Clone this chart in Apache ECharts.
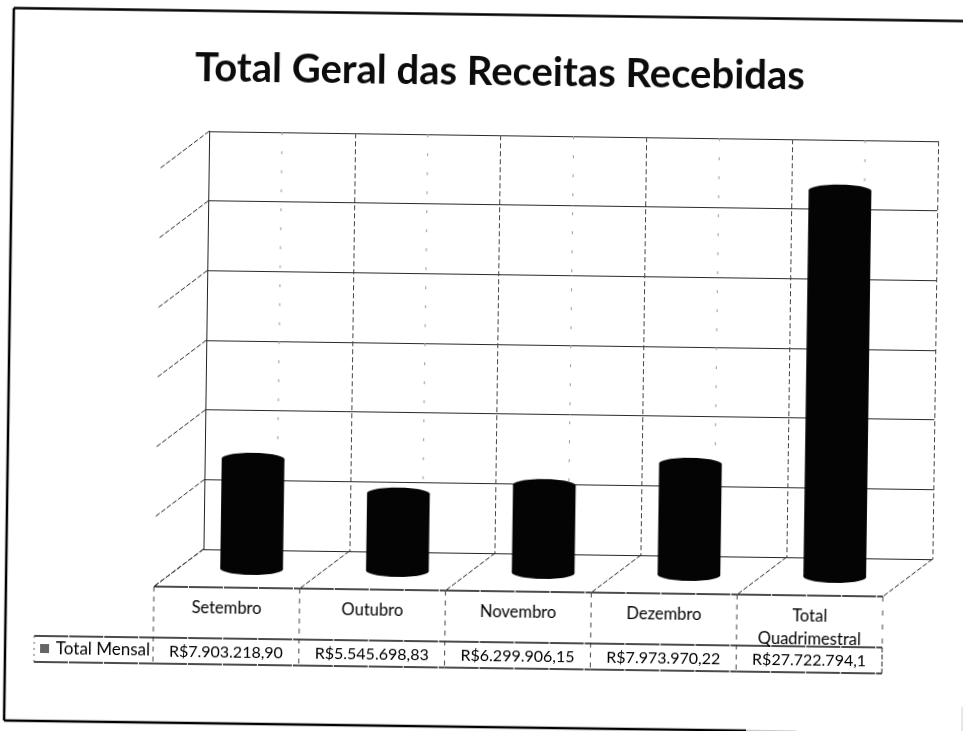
<!DOCTYPE html>
<html>
<head>
<meta charset="utf-8">
<title>Total Geral das Receitas Recebidas</title>
<style>
    html, body { margin: 0; padding: 0; width: 963px; height: 731px; overflow: hidden; background: #fff; }
    /* a folha foi digitalizada um pouco torta */
    #main { width: 1000px; height: 760px; transform-origin: 481.5px 365.5px; transform: rotate(0.785deg); }
</style>
</head>
<body>
<div id="main"></div>
<script src="https://cdn.jsdelivr.net/npm/echarts@6/dist/echarts.min.js"></script>
<script type="text/javascript">
    var categorias = ['Setembro', 'Outubro', 'Novembro', 'Dezembro', 'Total\nQuadrimestral'];
    var totalMensal = [7903218.90, 5545698.83, 6299906.15, 7973970.22, 27722794.1];
    var rotulosTabela = ['R$7.903.218,90', 'R$5.545.698,83', 'R$6.299.906,15', 'R$7.973.970,22', 'R$27.722.794,1'];
    var marcasEixo = [0, 5000000, 10000000, 15000000, 20000000, 25000000, 30000000];
    var nomeSerie = 'Total Mensal';

    var FONTE = 'Lato, "Open Sans", sans-serif';
    var COR_LINHA = '#222';
    // deslocamento do fundo ate a frente do piso
    var DX = -49, DY = 38;
    // linhas da tabela, medidas a partir da frente do piso
    var TAB_TOPO = 51, TAB_BASE = 77, TAB_ESQ = 38;

    function linha(x1, y1, x2, y2, estilo) {
        return { type: 'line', shape: { x1: x1, y1: y1, x2: x2, y2: y2 }, style: estilo };
    }
    var tracejado = { stroke: COR_LINHA, lineWidth: 1, lineDash: [5, 2] };
    var continuo = { stroke: '#111', lineWidth: 1.4, lineDash: [34, 1] };
    var pontilhado = { stroke: '#999', lineWidth: 1, lineDash: [3, 16] };

    // cilindros
    function desenhaCilindro(params, api) {
        var topo = api.coord([api.value(0), api.value(1)]);
        var base = api.coord([api.value(0), 0]);
        var larg = api.size([1, 0])[0] * 0.43;
        var cx = topo[0] + DX / 2;
        var ty = topo[1] + DY / 2;
        var by = base[1] + DY / 2;
        var cor = { fill: '#040404' };
        return {
            type: 'group',
            children: [
                { type: 'rect', shape: { x: cx - larg / 2, y: ty, width: larg, height: by - ty }, style: cor },
                { type: 'ellipse', shape: { cx: cx, cy: ty, rx: larg / 2, ry: 6 }, style: cor },
                { type: 'ellipse', shape: { cx: cx, cy: by, rx: larg / 2, ry: 6 }, style: cor }
            ]
        };
    }

    // diagonais da parede esquerda
    function desenhaParede(params, api) {
        var p = api.coord([0, api.value(0)]);
        var x = p[0] - api.size([1, 0])[0] / 2;
        return linha(x, p[1], x + DX, p[1] + DY, tracejado);
    }

    // piso, linhas fracas do fundo e tabela de dados
    function desenhaCelula(params, api) {
        var i = api.value(0);
        var base = api.coord([i, 0]);
        var topo = api.coord([i, marcasEixo[marcasEixo.length - 1]]);
        var w = api.size([1, 0])[0];
        var xf = base[0] - w / 2;
        var yf = base[1];
        var xe = xf + DX;
        var yp = yf + DY;
        var filhos = [
            linha(base[0], topo[1], base[0], yf, pontilhado),
            linha(xf, yf, xe, yp, tracejado),
            linha(xe, yp, xe + w, yp, continuo),
            linha(xe, yp, xe, yp + TAB_BASE, { stroke: '#444', lineWidth: 1, lineDash: [5, 5] }),
            linha(xe, yp + TAB_TOPO, xe + w, yp + TAB_TOPO, continuo),
            linha(xe, yp + TAB_BASE, xe + w, yp + TAB_BASE, continuo),
            {
                type: 'text',
                style: {
                    x: xe + w / 2, y: yp + 9,
                    text: categorias[i],
                    font: '16.5px ' + FONTE,
                    fill: '#000',
                    align: 'center',
                    verticalAlign: 'top',
                    lineHeight: 23
                }
            },
            {
                type: 'text',
                style: {
                    x: xe + w / 2, y: yp + TAB_TOPO + 14,
                    text: rotulosTabela[i],
                    font: '16px ' + FONTE,
                    fill: '#000',
                    align: 'center',
                    verticalAlign: 'middle'
                }
            }
        ];
        if (i === categorias.length - 1) {
            filhos.push(linha(xf + w, yf, xe + w, yp, tracejado));
            filhos.push(linha(xe + w, yp, xe + w, yp + TAB_TOPO, { stroke: '#444', lineWidth: 1, lineDash: [5, 9] }));
            filhos.push(linha(xe + w, yp + TAB_TOPO, xe + w, yp + TAB_BASE, tracejado));
        }
        if (i === 0) {
            filhos.push(linha(TAB_ESQ, yp + TAB_TOPO, xe, yp + TAB_TOPO, continuo));
            filhos.push(linha(TAB_ESQ, yp + TAB_BASE, xe, yp + TAB_BASE, continuo));
            filhos.push(linha(TAB_ESQ, yp + TAB_TOPO, TAB_ESQ, yp + TAB_BASE, { stroke: '#666', lineWidth: 1, lineDash: [2, 4] }));
            filhos.push({ type: 'rect', shape: { x: 44, y: yp + TAB_TOPO + 8, width: 9, height: 9 }, style: { fill: '#666' } });
            filhos.push({
                type: 'text',
                style: {
                    x: xe - 3, y: yp + TAB_TOPO + 13,
                    text: nomeSerie,
                    font: '17px ' + FONTE,
                    fill: '#000',
                    align: 'right',
                    verticalAlign: 'middle'
                }
            });
        }
        return { type: 'group', children: filhos };
    }

    var myChart = echarts.init(document.getElementById('main'));

    var option = {
        animation: false,
        backgroundColor: '#fff',
        title: {
            text: 'Total Geral das Receitas Recebidas',
            left: 491,
            top: 47,
            textAlign: 'center',
            textStyle: { fontFamily: FONTE, fontSize: 40, fontWeight: 'bold', color: '#0c0c0c' }
        },
        grid: { left: 206, top: 135, width: 729, height: 418, containLabel: false },
        xAxis: {
            type: 'category',
            data: categorias,
            axisLine: { show: true, lineStyle: { color: COR_LINHA, type: [6, 2] } },
            axisTick: { show: false },
            axisLabel: { show: false },
            splitLine: { show: true, lineStyle: { color: '#444', type: [5, 3] } }
        },
        yAxis: {
            type: 'value',
            min: 0,
            max: 30000000,
            interval: 5000000,
            axisLine: { show: true, lineStyle: { color: '#222' } },
            axisTick: { show: false },
            axisLabel: { show: false },
            splitLine: { show: true, lineStyle: { color: '#2a2a2a', width: 1 } }
        },
        series: [
            {
                type: 'custom',
                renderItem: desenhaParede,
                encode: { y: 0 },
                data: marcasEixo.map(function (v) { return [v]; }),
                silent: true
            },
            {
                type: 'custom',
                renderItem: desenhaCelula,
                encode: { x: 0 },
                data: categorias.map(function (c, i) { return [i]; }),
                silent: true
            },
            {
                name: nomeSerie,
                type: 'custom',
                renderItem: desenhaCilindro,
                encode: { x: 0, y: 1 },
                data: totalMensal.map(function (v, i) { return [i, v]; }),
                silent: true
            }
        ],
        // moldura da pagina
        graphic: [
            { type: 'line', silent: true, shape: { x1: 9, y1: 14.5, x2: 1000, y2: 14.5 }, style: { stroke: '#000', lineWidth: 2.5 } },
            { type: 'line', silent: true, shape: { x1: 9, y1: 14.5, x2: 9, y2: 727 }, style: { stroke: '#000', lineWidth: 2.5 } },
            { type: 'line', silent: true, shape: { x1: 9, y1: 727, x2: 751, y2: 727 }, style: { stroke: '#000', lineWidth: 2.5 } },
            { type: 'line', silent: true, shape: { x1: 751, y1: 727, x2: 801, y2: 727 }, style: { stroke: '#bbb', lineWidth: 1.5 } },
            { type: 'line', silent: true, shape: { x1: 967, y1: 700, x2: 967, y2: 745 }, style: { stroke: '#ddd', lineWidth: 1.5 } }
        ]
    };

    myChart.setOption(option);
</script>
</body>
</html>
